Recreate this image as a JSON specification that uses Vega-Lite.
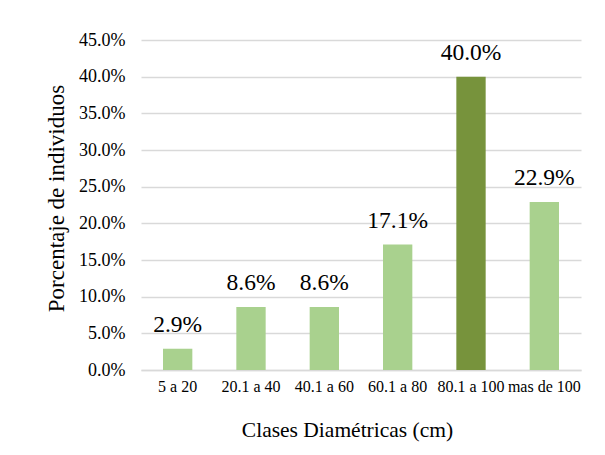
{
  "$schema": "https://vega.github.io/schema/vega-lite/v6.json",
  "autosize": "none",
  "width": 440,
  "height": 330,
  "padding": {"left": 141, "top": 40, "right": 24, "bottom": 85},
  "background": "white",
  "data": {
    "values": [
      {"clase": "5 a 20", "pct": 0.029, "max": false},
      {"clase": "20.1 a 40", "pct": 0.086, "max": false},
      {"clase": "40.1 a 60", "pct": 0.086, "max": false},
      {"clase": "60.1 a 80", "pct": 0.171, "max": false},
      {"clase": "80.1 a 100", "pct": 0.40, "max": true},
      {"clase": "mas de 100", "pct": 0.229, "max": false}
    ]
  },
  "encoding": {
    "x": {
      "field": "clase", "type": "nominal", "sort": null,
      "scale": {"paddingInner": 0.6, "paddingOuter": 0.3},
      "axis": {
        "title": "Clases Diamétricas (cm)", "labelAngle": 0, "ticks": false,
        "domainColor": "#d9d9d9", "domainWidth": 1.5,
        "labelFontSize": 16, "labelColor": "#000000",
        "labelPadding": 8, "labelOverlap": false,
        "titleFontSize": 21.5, "titleFontWeight": "normal",
        "titleColor": "#000000", "titlePadding": 25, "titleX": 206
      }
    },
    "y": {
      "field": "pct", "type": "quantitative",
      "scale": {"domain": [0, 0.45]},
      "axis": {
        "title": "Porcentaje de individuos", "format": ".1%",
        "values": [0, 0.05, 0.1, 0.15, 0.2, 0.25, 0.3, 0.35, 0.4, 0.45],
        "labelOverlap": false,
        "domain": false, "ticks": false, "gridColor": "#d9d9d9", "gridWidth": 1.5,
        "labelFontSize": 18, "labelColor": "#000000",
        "labelPadding": 16,
        "titleFontSize": 23, "titleFontWeight": "normal",
        "titleColor": "#000000", "titlePadding": 10, "titleY": 158
      }
    }
  },
  "layer": [
    {
      "mark": {"type": "bar"},
      "encoding": {
        "color": {
          "field": "max", "type": "nominal",
          "scale": {"domain": [false, true], "range": ["#a9d18e", "#77933c"]},
          "legend": null
        }
      }
    },
    {
      "mark": {"type": "text", "baseline": "alphabetic", "dy": -17, "fontSize": 23.5, "color": "#000000"},
      "encoding": {
        "text": {"field": "pct", "type": "quantitative", "format": ".1%"}
      }
    }
  ],
  "config": {
    "view": {"stroke": null},
    "font": "Liberation Serif",
    "text": {"font": "Liberation Serif"},
    "axis": {"labelFont": "Liberation Serif", "titleFont": "Liberation Serif"}
  }
}
